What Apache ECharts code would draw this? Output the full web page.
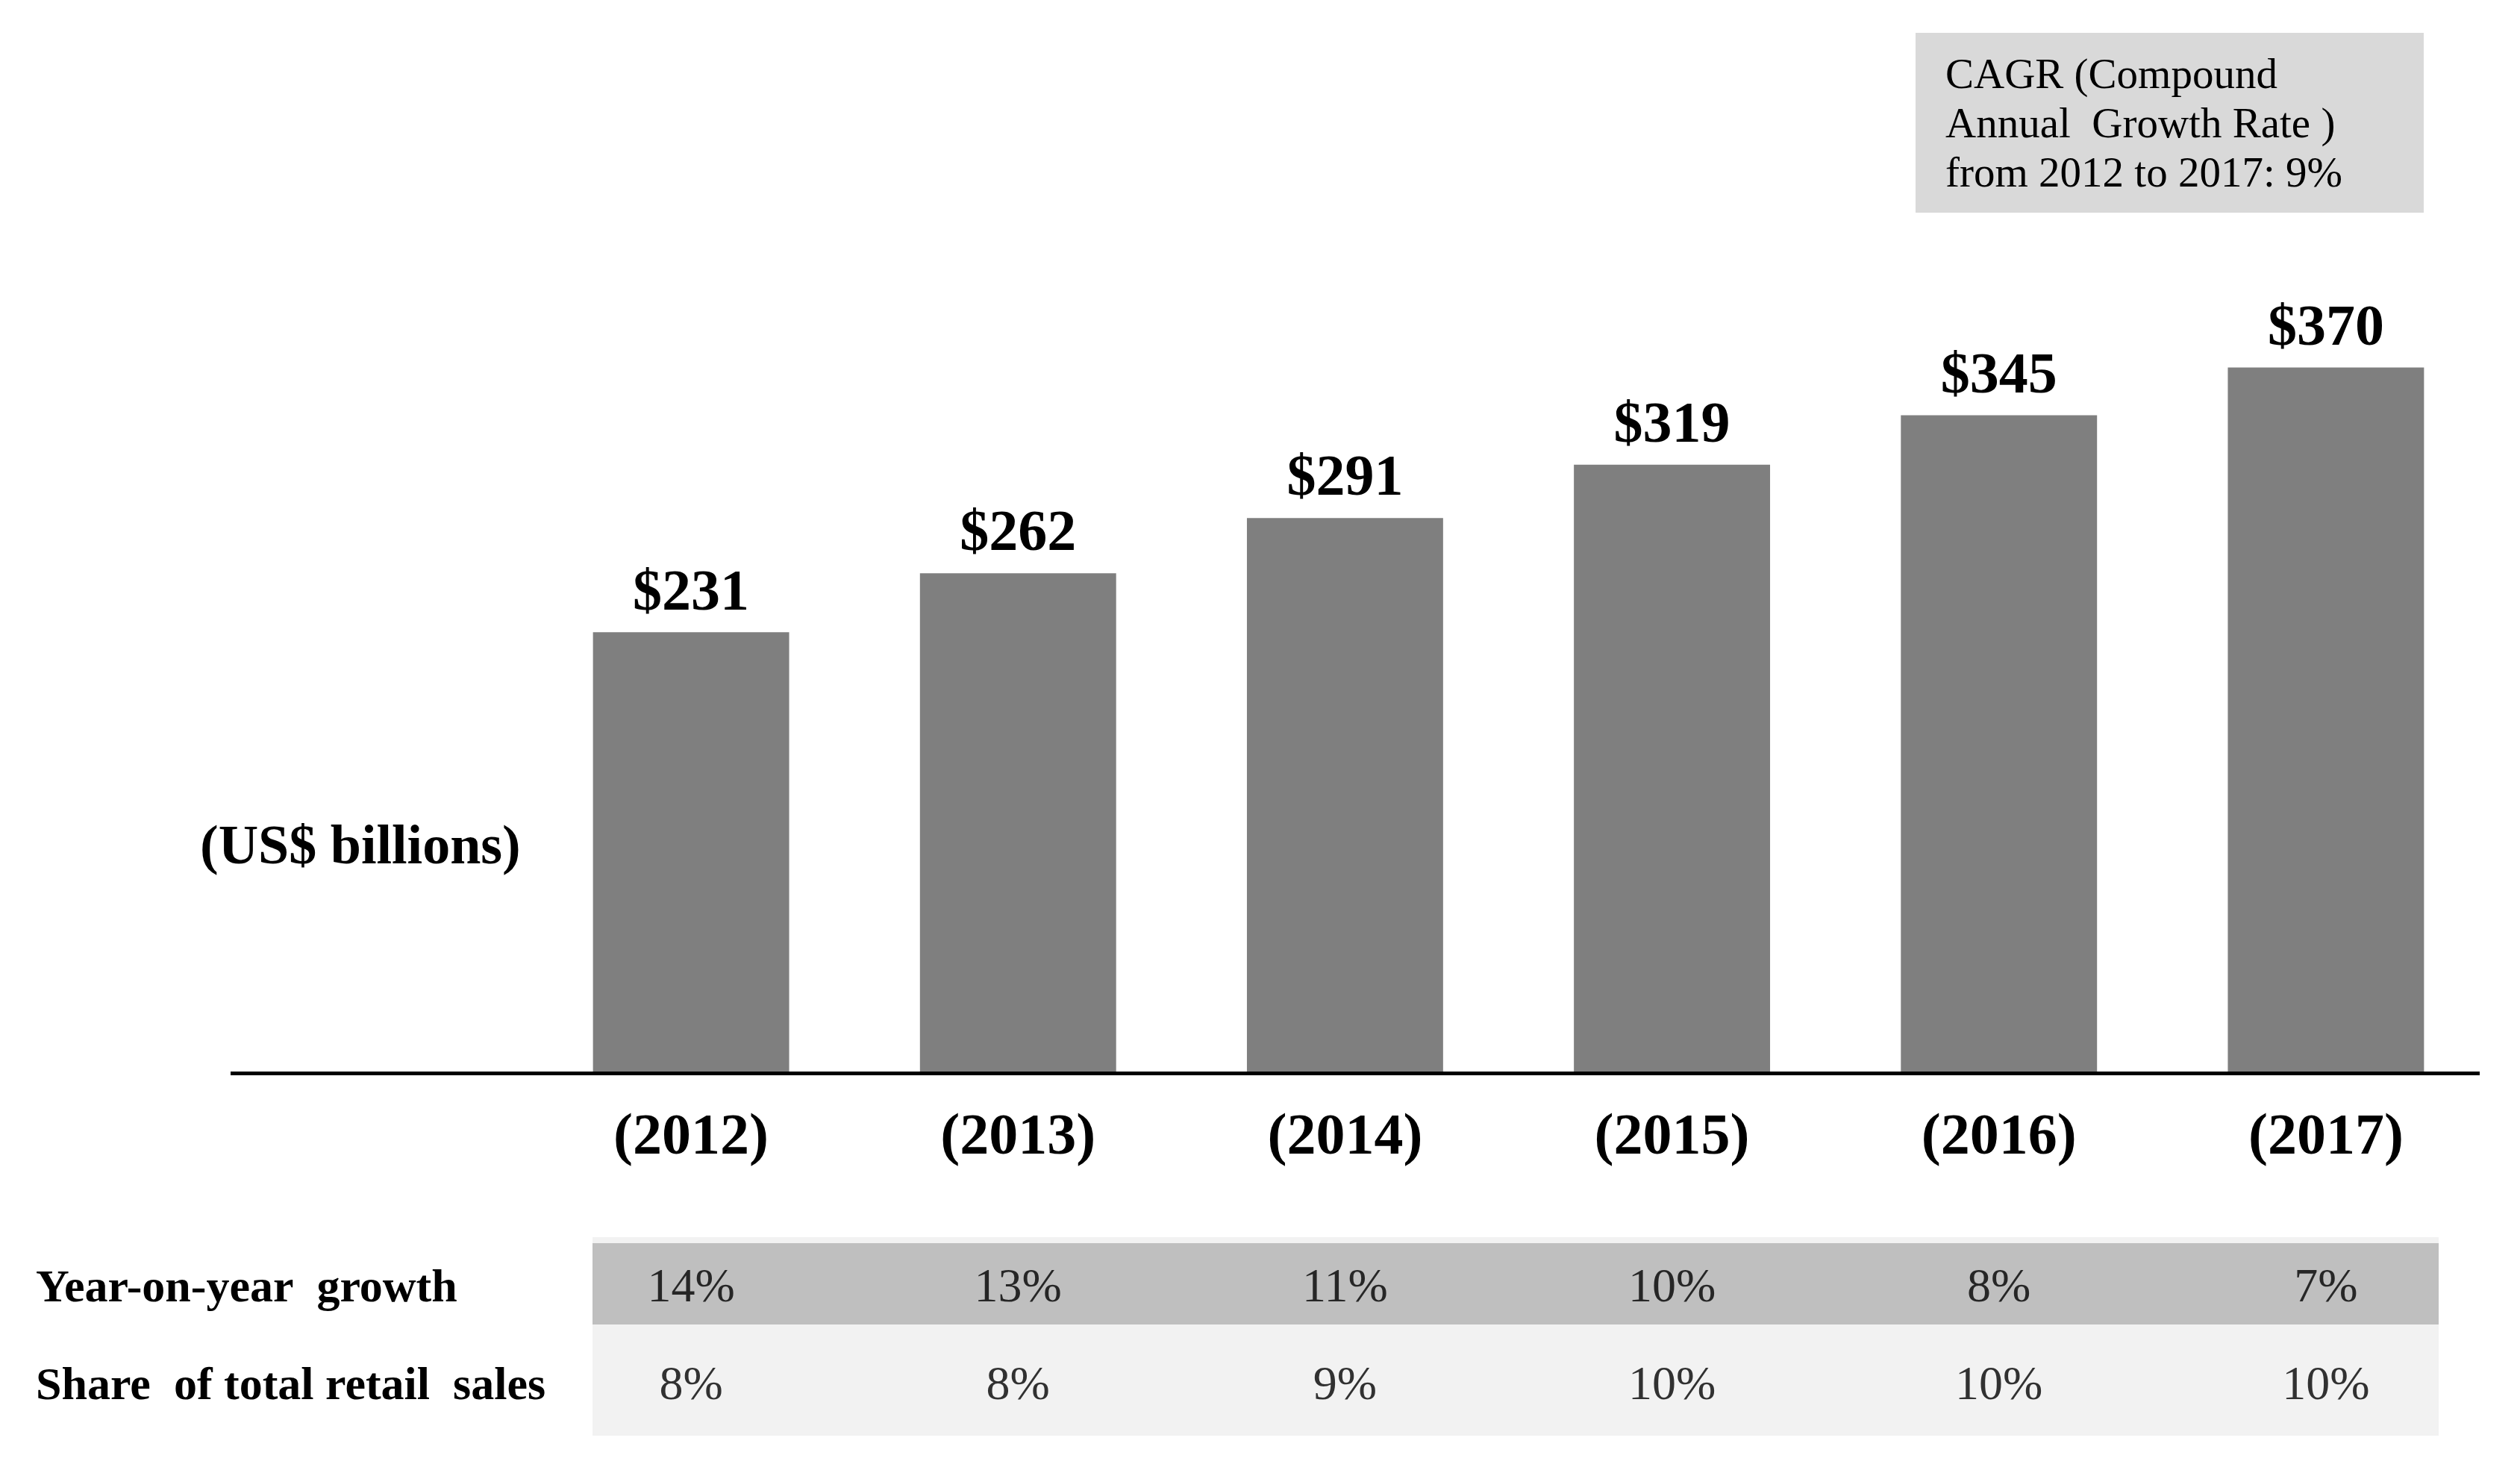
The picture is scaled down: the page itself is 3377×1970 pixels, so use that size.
<!DOCTYPE html>
<html>
<head>
<meta charset="utf-8">
<script src="https://cdn.jsdelivr.net/npm/echarts@6/dist/echarts.min.js"></script>
<style>
html,body{margin:0;padding:0;background:#fff;}
#chart{width:3377px;height:1970px;}
</style>
</head>
<body>
<div id="chart"></div>
<script>
// ---- data ----
const years = ['(2012)', '(2013)', '(2014)', '(2015)', '(2016)', '(2017)'];
const salesBillions = [231, 262, 291, 319, 345, 370];
const yoyGrowth = [14, 13, 11, 10, 8, 7];
const retailShare = [8, 8, 9, 10, 10, 10];
const rowLabels = ['Year-on-year  growth', 'Share  of total retail  sales'];
const unitLabel = '(US$ billions)';
const cagrText = 'CAGR (Compound\nAnnual  Growth Rate )\nfrom 2012 to 2017: 9%';

// ---- layout / style ----
const FONT = '"Liberation Serif", "Times New Roman", serif';
const GRID_LEFT = 707, GRID_RIGHT = 41;

const chart = echarts.init(document.getElementById('chart'), null, {renderer: 'canvas'});

const option = {
  backgroundColor: '#ffffff',
  animation: false,
  textStyle: {fontFamily: FONT, color: '#000'},
  grid: [
    {left: GRID_LEFT, right: GRID_RIGHT, top: 416, bottom: 1970 - 1437},
    {left: GRID_LEFT, right: GRID_RIGHT, top: 1662, bottom: 1970 - 1924}
  ],
  xAxis: [
    {
      type: 'category', gridIndex: 0, data: years,
      axisLine: {show: false}, axisTick: {show: false},
      axisLabel: {
        show: true, margin: 50, fontFamily: FONT, fontWeight: 'bold',
        fontSize: 78, color: '#000', lineHeight: 78
      }
    },
    {
      type: 'category', gridIndex: 1, data: years,
      axisLine: {show: false}, axisTick: {show: false}, axisLabel: {show: false}
    }
  ],
  yAxis: [
    {
      type: 'value', gridIndex: 0, min: 0, max: 400,
      show: false, splitLine: {show: false}
    },
    {
      type: 'category', gridIndex: 1, data: rowLabels, inverse: true,
      axisLine: {show: false}, axisTick: {show: false}, splitLine: {show: false},
      axisLabel: {
        show: true, align: 'left', margin: GRID_LEFT - 48,
        fontFamily: FONT, fontWeight: 'bold', fontSize: 62, color: '#000'
      }
    }
  ],
  series: [
    {
      type: 'bar', xAxisIndex: 0, yAxisIndex: 0,
      data: salesBillions, barWidth: '60%',
      itemStyle: {color: '#7F7F7F'},
      label: {
        show: true, position: 'top', distance: 12,
        formatter: p => '$' + p.value,
        fontFamily: FONT, fontWeight: 'bold', fontSize: 78, color: '#000'
      },
      z: 3
    },
    {
      type: 'scatter', xAxisIndex: 1, yAxisIndex: 1,
      data: yoyGrowth.map((v, i) => [i, 0, v]),
      symbolSize: 1, itemStyle: {color: 'rgba(0,0,0,0)'},
      label: {
        show: true, position: 'inside', formatter: p => p.value[2] + '%',
        fontFamily: FONT, fontSize: 64, color: '#000'
      },
      z: 5
    },
    {
      type: 'scatter', xAxisIndex: 1, yAxisIndex: 1,
      data: retailShare.map((v, i) => [i, 1, v]),
      symbolSize: 1, itemStyle: {color: 'rgba(0,0,0,0)'},
      label: {
        show: true, position: 'inside', formatter: p => p.value[2] + '%',
        fontFamily: FONT, fontSize: 64, color: '#000'
      },
      z: 5
    }
  ],
  graphic: [
    // baseline
    {type: 'line', shape: {x1: 309, y1: 1438.5, x2: 3323, y2: 1438.5},
     style: {stroke: '#000', lineWidth: 5}, z: 10},
    // table backgrounds
    {type: 'rect', shape: {x: 794, y: 1658, width: 3268 - 794, height: 1924 - 1658},
     style: {fill: '#F2F2F2'}, z: 0},
    {type: 'rect', shape: {x: 794, y: 1666, width: 3268 - 794, height: 1775 - 1666},
     style: {fill: '#BFBFBF'}, z: 0},
    // unit label
    {type: 'text', left: 268, top: 1141 - 40,
     style: {text: unitLabel, font: 'bold 74px ' + FONT, fill: '#000'}, z: 10},
    // CAGR box
    {type: 'rect', shape: {x: 2567, y: 44, width: 3248 - 2567, height: 285 - 44},
     style: {fill: '#D9D9D9'}, z: 0},
    {type: 'text', left: 2607, top: 70,
     style: {text: cagrText, font: '57px ' + FONT, fill: '#000', lineHeight: 66}, z: 10}
  ]
};

chart.setOption(option);
</script>
</body>
</html>
